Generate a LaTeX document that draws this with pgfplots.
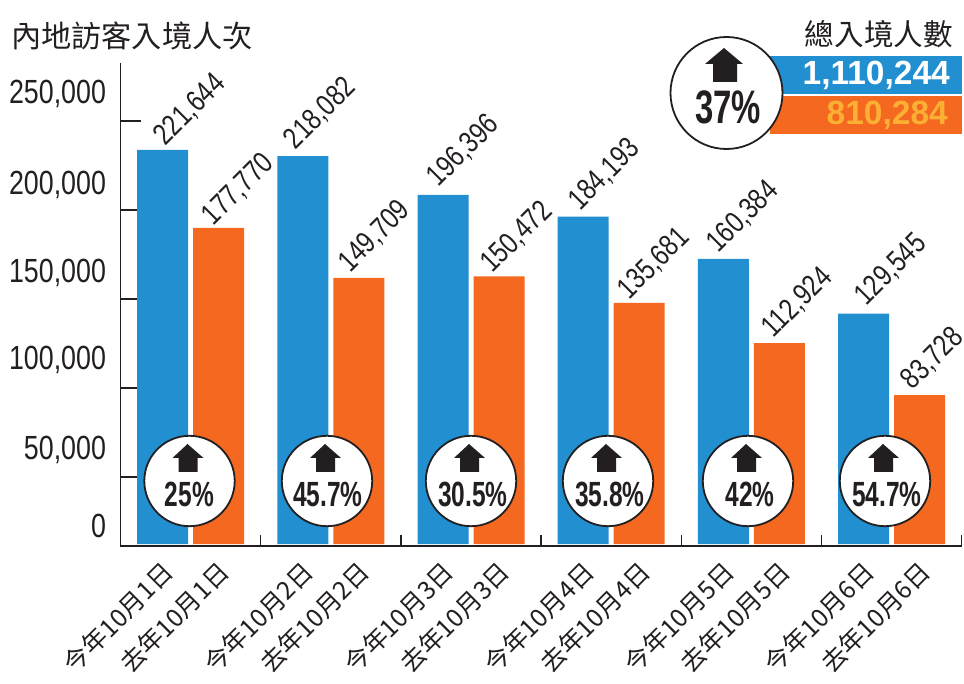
\documentclass[border=0pt]{standalone}
\usepackage{fontspec}
\usepackage{pgfplots}
\usepackage{pgfplotstable}
\pgfplotsset{compat=1.18}
\setmainfont{Liberation Sans}[FakeStretch=0.8]
\newfontfamily\cjk{Noto Sans CJK TC}
\newfontfamily\boldnum{Liberation Sans Bold}[FakeStretch=0.7]
\newfontfamily\widebold{Liberation Sans Bold}
\definecolor{cblue}{HTML}{2290D0}
\definecolor{corange}{HTML}{F46820}
\definecolor{cink}{HTML}{231F20}
\definecolor{cgold}{HTML}{FBB034}
\pgfplotstableread{
x y
0.5 221644
1.5 218082
2.5 196396
3.5 184193
4.5 160384
5.5 129545
}\thisyear
\pgfplotstableread{
x y
0.5 177770
1.5 149709
2.5 150472
3.5 135681
4.5 112924
5.5 83728
}\lastyear
\newcommand{\badge}[3]{%
  \fill[white,draw=cink,line width=1.8pt] (#1,481) circle (45.2);
  \fill[cink] ({#1-17},458) -- ({#1-2},444) -- ({#1+14},458) -- ({#1+8},458) -- ({#1+8},472) -- ({#1-11},472) -- ({#1-11},458) -- cycle;
  \node[text=cink,font=\boldnum\fontsize{35}{35}\selectfont,inner sep=0pt] at (#2,494) {#3};
}
\begin{document}
\begin{tikzpicture}
\path[use as bounding box] (0,0) rectangle (964pt,683pt);
\begin{axis}[
  at={(120.5pt,139pt)},anchor=origin,
  clip=false,
  scale only axis,
  width=841.5pt,height=483pt,
  xmin=0,xmax=6.002,
  ymin=-1125,ymax=270529,
  scaled y ticks=false,
  axis lines=left,
  axis line style={-,line width=1.8pt,color=cink},
  ybar=5pt,bar width=51pt,
  ytick={10175,52875,103475,152375,201875,253075},
  yticklabels={0,{50,000},{100,000},{150,000},{200,000},{250,000}},
  xtick={0.3,0.7,1.3,1.7,2.3,2.7,3.3,3.7,4.3,4.7,5.3,5.7},
  xticklabels={今年10月1日,去年10月1日,今年10月2日,去年10月2日,今年10月3日,去年10月3日,今年10月4日,去年10月4日,今年10月5日,去年10月5日,今年10月6日,去年10月6日},
  major tick length=0pt,
  tick style={line width=1.5pt,color=cink},
  extra y ticks={-1125,37700,87750,137800,187900,237900},
  extra y tick labels={},
  extra y tick style={major tick length=20pt,tick align=inside},
  extra x ticks={1,2,3,4,5,6},
  extra x tick labels={},
  extra x tick style={major tick length=11pt,tick align=inside},
  yticklabel style={font=\fontsize{33.5}{33.5}\selectfont,text=cink,anchor=east,xshift=-11pt,/pgf/number format/assume math mode=true},
  xticklabel style={font=\cjk\fontsize{25}{25}\selectfont,text=cink,rotate=45,anchor=east,xshift=-7.6pt,yshift=-19.3pt},
  nodes near coords,
  every node near coord/.append style={rotate=45,anchor=west,font=\fontsize{30}{30}\selectfont,text=cink,inner sep=0pt,/pgf/number format/fixed,/pgf/number format/precision=0,/pgf/number format/1000 sep={,},/pgf/number format/assume math mode=true},
]
\addplot[fill=cblue,draw=none,every node near coord/.append style={xshift=4pt,yshift=8.75pt},
  coordinate style/.condition={abs(x-1.5)<0.1}{xshift=-10pt,yshift=3pt},
  coordinate style/.condition={abs(x-2.5)<0.1}{xshift=-7pt,yshift=4pt},
  coordinate style/.condition={abs(x-3.5)<0.1}{xshift=-6pt,yshift=2pt},
  coordinate style/.condition={abs(x-4.5)<0.1}{xshift=-8pt,yshift=2pt},
  coordinate style/.condition={abs(x-5.5)<0.1}{xshift=0pt,yshift=4pt},
] table[x=x,y=y] {\thisyear};
\addplot[fill=corange,draw=none,every node near coord/.append style={xshift=-2.5pt,yshift=13pt},
  coordinate style/.condition={abs(x-1.5)<0.1}{xshift=-4pt,yshift=3pt},
  coordinate style/.condition={abs(x-2.5)<0.1}{xshift=-2pt,yshift=1pt},
  coordinate style/.condition={abs(x-3.5)<0.1}{xshift=-5pt,yshift=1pt},
  coordinate style/.condition={abs(x-4.5)<0.1}{xshift=-1pt,yshift=3pt},
  coordinate style/.condition={abs(x-5.5)<0.1}{xshift=-2pt,yshift=3pt},
] table[x=x,y=y] {\lastyear};
\end{axis}
\begin{scope}[x=1pt,y=-1pt,yshift=683pt]
  \node[anchor=west,inner sep=0pt,text=cink,font=\cjk\fontsize{30.2}{30.2}\selectfont] at (11,36) {內地訪客入境人次};
  \node[anchor=east,inner sep=0pt,text=cink,font=\cjk\fontsize{29.6}{29.6}\selectfont] at (953,34) {總入境人數};
  \fill[cblue] (770,56) rectangle (962,94);
  \fill[corange] (770,96) rectangle (962,134);
  \node[anchor=east,inner sep=0pt,text=white,font=\widebold\fontsize{33.5}{33.5}\selectfont] at (950,75) {1,110,244};
  \node[anchor=east,inner sep=0pt,text=cgold,font=\widebold\fontsize{33.5}{33.5}\selectfont] at (948,115) {810,284};
  \fill[white,draw=cink,line width=1.8pt] (726.5,93) circle (56);
  \fill[cink] (705,64) -- (724,48) -- (743,64) -- (737,64) -- (737,82) -- (713,82) -- (713,64) -- cycle;
  \node[text=cink,font=\boldnum\fontsize{47}{47}\selectfont,inner sep=0pt] at (728,107) {37\%};
  \badge{189.5}{189.5}{25\%}
  \badge{327}{328}{45.7\%}
  \badge{471}{473}{30.5\%}
  \badge{608}{610}{35.8\%}
  \badge{748}{750}{42\%}
  \badge{885}{887}{54.7\%}
\end{scope}
\end{tikzpicture}
\end{document}
